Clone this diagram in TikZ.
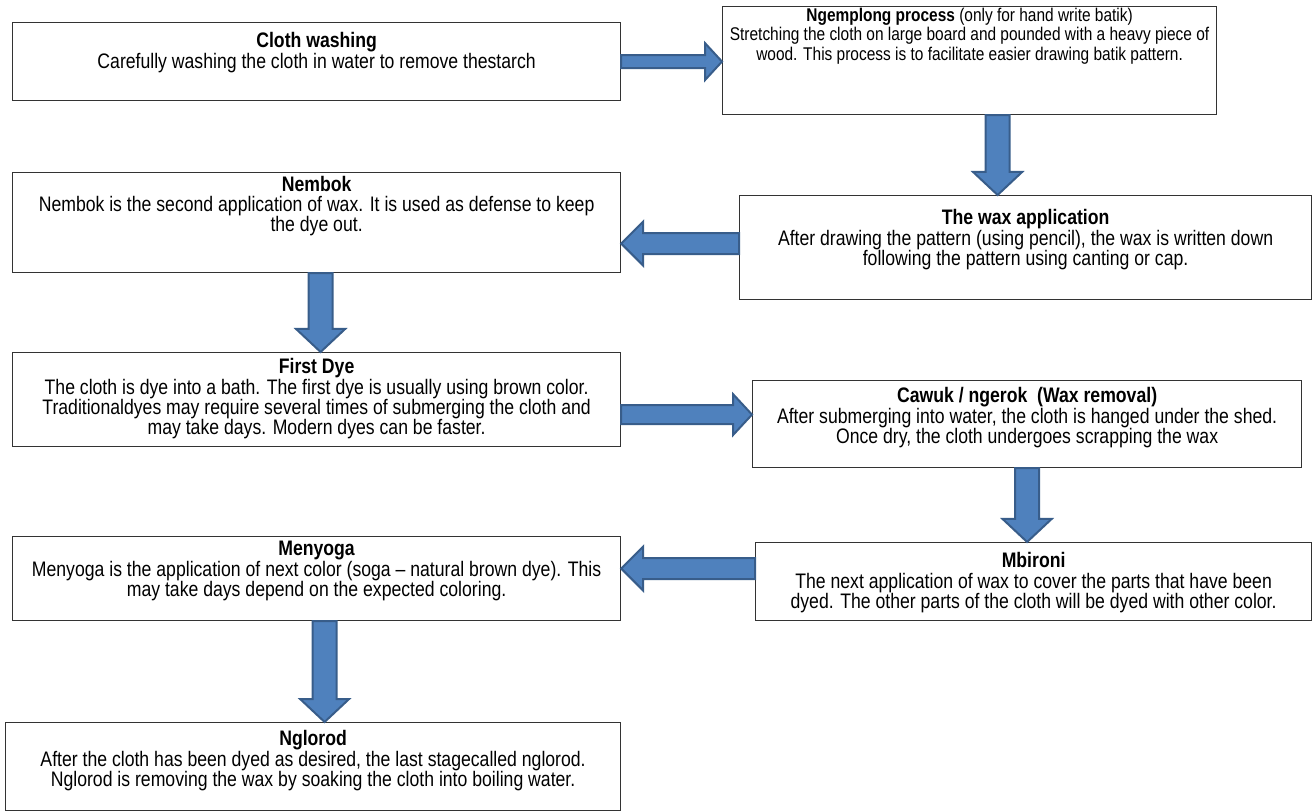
\documentclass[tikz,border=0pt]{standalone}
\usepackage{fontspec}
\setmainfont{Liberation Sans}[FakeStretch=0.84]
\usepackage{xcolor}
\usetikzlibrary{positioning, calc}
\definecolor{arrowblue}{RGB}{79,129,189}
\definecolor{arrowedge}{RGB}{56,93,138}
\tikzset{
  stepbox/.style={draw=black!80, line width=0.6pt, anchor=north west, inner sep=0pt},
  steptext/.style={anchor=north, align=center, inner sep=0pt, font=\fontsize{10.5}{10.2}\selectfont},
  blockarrow/.style={fill=arrowblue, draw=arrowedge, line width=1pt, line join=miter},
}
% sideways block arrow: tail, tip, half shaft, half head, head length
\newcommand{\harrow}[5]{%
  \draw[blockarrow] let \p1=(#1), \p2=(#2), \n1={sign(\x2-\x1)} in
    (\x1,\y1+#3) -- (\x2-\n1*#5,\y1+#3) -- (\x2-\n1*#5,\y1+#4) -- (\x2,\y1)
    -- (\x2-\n1*#5,\y1-#4) -- (\x2-\n1*#5,\y1-#3) -- (\x1,\y1-#3) -- cycle;}
% downward block arrow
\newcommand{\varrow}[5]{%
  \draw[blockarrow] let \p1=(#1), \p2=(#2) in
    (\x1-#3,\y1) -- (\x1-#3,\y2+#5) -- (\x1-#4,\y2+#5) -- (\x1,\y2)
    -- (\x1+#4,\y2+#5) -- (\x1+#3,\y2+#5) -- (\x1+#3,\y1) -- cycle;}

\begin{document}
\begin{tikzpicture}[x=0.5pt, y=-0.5pt]
\useasboundingbox (0,0) rectangle (1313,812);

% boxes
\node[stepbox, minimum width=304pt, minimum height=39pt] (wash) at (12,22) {};
\node[stepbox, minimum width=247pt, minimum height=54pt] (ngem) at (722,6) {};
\node[stepbox, minimum width=286pt, minimum height=52pt] (wax) at (739,195) {};
\node[stepbox, minimum width=304pt, minimum height=50pt] (nembok) at (12,172) {};
\node[stepbox, minimum width=304pt, minimum height=47pt] (first) at (12,352) {};
\node[stepbox, minimum width=274.5pt, minimum height=43.5pt] (cawuk) at (752,380) {};
\node[stepbox, minimum width=278pt, minimum height=39pt] (mbironi) at (755,542) {};
\node[stepbox, minimum width=304pt, minimum height=42pt] (menyoga) at (12,536) {};
\node[stepbox, minimum width=307.5pt, minimum height=44pt] (nglorod) at (5,722) {};

% texts
\node[steptext, below=5pt of wash.north] (wash-t)
  {\textbf{Cloth washing}\\Carefully washing the cloth in water to remove thestarch};
\node[steptext, below=1pt of ngem.north, font=\fontsize{9.2}{9.6}\selectfont] (ngem-t)
  {\textbf{Ngemplong process} (only for hand write batik)\\Stretching the cloth on large board and pounded with a heavy piece of\\wood. This process is to facilitate easier drawing batik pattern.};
\node[steptext, below=7pt of wax.north] (wax-t)
  {\textbf{The wax application}\\After drawing the pattern (using pencil), the wax is written down\\following the pattern using canting or cap.};
\node[steptext, below=1.75pt of nembok.north] (nembok-t)
  {\textbf{Nembok}\\Nembok is the second application of wax. It is used as defense to keep\\the dye out.};
\node[steptext, below=3pt of first.north] (first-t)
  {\textbf{First Dye}\\The cloth is dye into a bath. The first dye is usually using brown color.\\Traditionaldyes may require several times of submerging the cloth and\\may take days. Modern dyes can be faster.};
\node[steptext, below=3.5pt of cawuk.north] (cawuk-t)
  {\textbf{Cawuk / ngerok\ \ (Wax removal)}\\After submerging into water, the cloth is hanged under the shed.\\Once dry, the cloth undergoes scrapping the wax};
\node[steptext, below=5pt of mbironi.north] (mbironi-t)
  {\textbf{Mbironi}\\The next application of wax to cover the parts that have been\\dyed. The other parts of the cloth will be dyed with other color.};
\node[steptext, below=2.5pt of menyoga.north] (menyoga-t)
  {\textbf{Menyoga}\\Menyoga is the application of next color (soga -- natural brown dye). This\\may take days depend on the expected coloring.};
\node[steptext, below=4pt of nglorod.north] (nglorod-t)
  {\textbf{Nglorod}\\After the cloth has been dyed as desired, the last stagecalled nglorod.\\Nglorod is removing the wax by soaking the cloth into boiling water.};

% arrows
\coordinate (a1) at (wash.east);
\harrow{a1}{ngem.west |- a1}{3.25pt}{9.25pt}{8.5pt}
\coordinate (a2) at ([xshift=14pt]ngem.south);
\varrow{a2}{a2 |- wax.north}{6pt}{12.25pt}{11.5pt}
\coordinate (a3) at ([yshift=2pt]wax.west);
\harrow{a3}{nembok.east |- a3}{5.25pt}{11pt}{11pt}
\coordinate (a4) at ([xshift=2pt]nembok.south);
\varrow{a4}{a4 |- first.north}{6pt}{12.25pt}{11.5pt}
\coordinate (a5) at ([yshift=-7.5pt]first.east);
\harrow{a5}{cawuk.west |- a5}{4.75pt}{10.25pt}{9.5pt}
\coordinate (a6) at (cawuk.south);
\varrow{a6}{a6 |- mbironi.north}{6pt}{12.25pt}{11.5pt}
\coordinate (a7) at ([yshift=6.5pt]mbironi.west);
\harrow{a7}{menyoga.east |- a7}{5.25pt}{11pt}{11pt}
\coordinate (a8) at ([xshift=4pt]menyoga.south);
\varrow{a8}{a8 |- nglorod.north}{6pt}{12.25pt}{11.5pt}
\end{tikzpicture}
\end{document}
